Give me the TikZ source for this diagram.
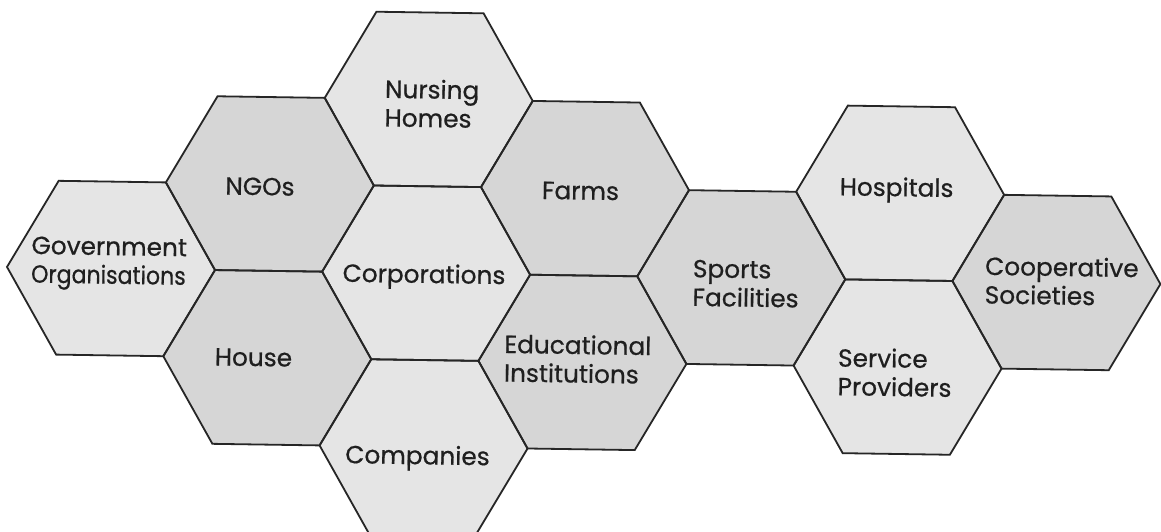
\documentclass[tikz,border=0pt]{standalone}
\usepackage{fontspec}
\usepackage{graphicx}
\setmainfont{Poppins}
\newfontfamily\lblfont{Poppins}[FakeBold=0.6]
\begin{document}
\begin{tikzpicture}[x=1pt,y=-1pt,
  hexlight/.style={fill=black!10},
  hexdark/.style={fill=black!16},
  hexline/.style={draw=black!85, line width=1.8pt, line join=miter},
  lbl/.style={font=\lblfont\fontsize{24.8}{28.6}\selectfont, text=black!88, inner sep=0pt, align=left, rotate=-0.85}]
\useasboundingbox (0,0) rectangle (1161,531);
\fill[white] (0,0) rectangle (1161,531);
\clip (0,0) rectangle (1161,531);
\def\hexpath{++(-104,0) -- ++(50.4,-86.9) -- ++(107.2,0) -- ++(50.4,86.9) -- ++(-50.4,86.9) -- ++(-107.2,0) -- cycle}
\begin{scope}[shift={(111,268.5)}, rotate=-0.85]
  \coordinate (cGov) at (0,0);
  \coordinate (cNGO) at (157.6,-86.9);
  \coordinate (cHouse) at (157.6,86.9);
  \coordinate (cNurs) at (315.2,-173.8);
  \coordinate (cCorp) at (315.2,0);
  \coordinate (cComp) at (315.2,173.8);
  \coordinate (cFarm) at (472.8,-86.9);
  \coordinate (cEdu) at (472.8,86.9);
  \coordinate (cSport) at (630.4,0);
  \coordinate (cHosp) at (788,-86.9);
  \coordinate (cServ) at (788,86.9);
  \coordinate (cCoop) at (945.6,0);
  \foreach \c in {cGov,cNurs,cCorp,cComp,cHosp,cServ}{\path[hexlight] (\c) \hexpath;}
  \foreach \c in {cNGO,cHouse,cFarm,cEdu,cSport,cCoop}{\path[hexdark] (\c) \hexpath;}
  \foreach \c in {cGov,cNGO,cHouse,cNurs,cCorp,cComp,cFarm,cEdu,cSport,cHosp,cServ,cCoop}{\path[hexline] (\c) \hexpath;}
\end{scope}
\node[lbl] (tGov) at (109,264) {Government\\\scalebox{0.89}[1]{Organisations}};
\node[lbl] (tNGO) at (260,186.5) {NGOs};
\node[lbl] (tHouse) at (253.5,357.5) {House};
\node[lbl] (tNurs) at (432,103.5) {Nursing\\Homes};
\node[lbl] (tCorp) at (424,276.7) {Corporations};
\node[lbl] (tComp) at (417.5,458) {Companies};
\node[lbl] (tFarm) at (580.5,191) {Farms};
\node[lbl] (tEdu) at (577.7,359) {Educational\\Institutions};
\node[lbl] (tSport) at (745.8,283.7) {Sports\\Facilities};
\node[lbl] (tHosp) at (896.6,190) {Hospitals};
\node[lbl] (tServ) at (894.8,372.4) {Service\\Providers};
\node[lbl] (tCoop) at (1061.7,281) {Cooperative\\Societies};
\end{tikzpicture}
\end{document}
